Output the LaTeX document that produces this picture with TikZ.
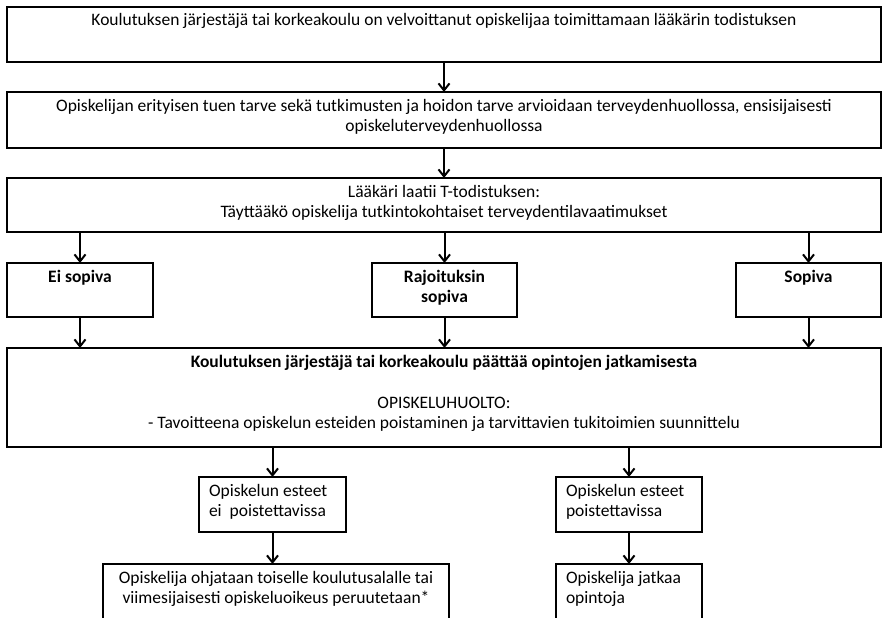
\documentclass[tikz,border=0pt]{standalone}
\usepackage{fontspec}
\setmainfont{Carlito}
\usetikzlibrary{arrows.meta}
\newcommand\mybox[4]{\parbox[c][#2pt][t]{#1pt}{\fontsize{17.5}{20.5}\selectfont #3\rule{0pt}{19pt}#4}}
\begin{document}
\begin{tikzpicture}[x=1pt,y=-1pt,
  box/.style={draw,line width=1.8pt,inner sep=0pt,outer sep=0pt,anchor=north west},
  arr/.style={line width=2pt,-{Straight Barb[length=7pt,width=11pt,line width=2pt]}}]
\useasboundingbox (0,0) rectangle (883,618);
\clip (0,0) rectangle (883,618);
\node[box] (b1) at (7,7) {\mybox{874}{55}{\centering}{Koulutuksen järjestäjä tai korkeakoulu on velvoittanut opiskelijaa toimittamaan lääkärin todistuksen}};
\node[box] (b2) at (7,92) {\mybox{874}{56}{\centering}{Opiskelijan erityisen tuen tarve sekä tutkimusten ja hoidon tarve arvioidaan terveydenhuollossa, ensisijaisesti\\opiskeluterveydenhuollossa}};
\node[box] (b3) at (7,178) {\mybox{874}{54}{\centering}{Lääkäri laatii T-todistuksen:\\Täyttääkö opiskelija tutkintokohtaiset terveydentilavaatimukset}};
\node[box] (ei) at (7,263) {\mybox{146}{54}{\centering\bfseries}{Ei sopiva}};
\node[box] (raj) at (372,263) {\mybox{145}{54}{\centering\bfseries}{Rajoituksin\\sopiva}};
\node[box] (sop) at (736,263) {\mybox{145}{54}{\centering\bfseries}{Sopiva}};
\node[box] (big) at (7,348) {\mybox{874}{99}{\centering}{\textbf{Koulutuksen järjestäjä tai korkeakoulu päättää opintojen jatkamisesta}\\[20.5pt]OPISKELUHUOLTO:\\- Tavoitteena opiskelun esteiden poistaminen ja tarvittavien tukitoimien suunnittelu}};
\node[box] (m1) at (199,477) {\mybox{147}{55}{\raggedright\leftskip=10pt}{Opiskelun esteet\\ei\ \ poistettavissa}};
\node[box] (m2) at (556,477) {\mybox{146}{55}{\raggedright\leftskip=10pt}{Opiskelun esteet\\poistettavissa}};
\node[box] (l1) at (103,564) {\mybox{346}{80}{\centering}{Opiskelija ohjataan toiselle koulutusalalle tai\\viimesijaisesti opiskeluoikeus peruutetaan*}};
\node[box] (l2) at (556,564) {\mybox{146}{80}{\raggedright\leftskip=10pt}{Opiskelija jatkaa\\opintoja}};
\draw[arr] (b1.south) -- (b2.north);
\draw[arr] (b2.south) -- (b3.north);
\draw[arr] (b3.south -| ei.north) -- (ei.north);
\draw[arr] (b3.south -| raj.north) -- (raj.north);
\draw[arr] (b3.south -| sop.north) -- (sop.north);
\draw[arr] (ei.south) -- (ei.south |- big.north);
\draw[arr] (raj.south) -- (raj.south |- big.north);
\draw[arr] (sop.south) -- (sop.south |- big.north);
\draw[arr] (big.south -| m1.north) -- (m1.north);
\draw[arr] (big.south -| m2.north) -- (m2.north);
\draw[arr] (m1.south) -- (m1.south |- l1.north);
\draw[arr] (m2.south) -- (m2.south |- l2.north);
\end{tikzpicture}
\end{document}
